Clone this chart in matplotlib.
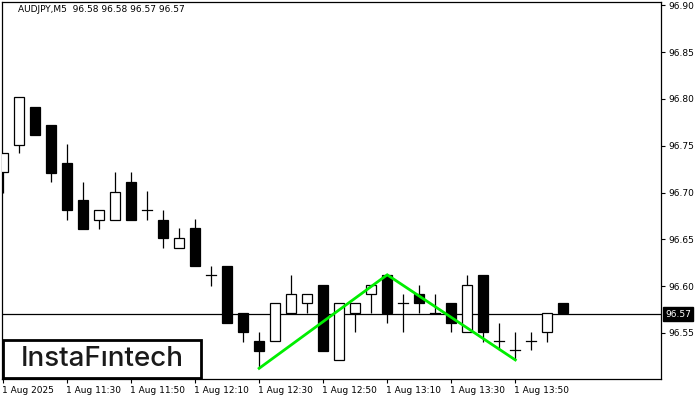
import matplotlib
matplotlib.use("Agg")
import matplotlib.pyplot as plt
import matplotlib.transforms as mtransforms
from matplotlib.patches import Rectangle

opens = [96.722, 96.751, 96.791, 96.772, 96.732, 96.692, 96.671, 96.671, 96.711, 96.681,
         96.671, 96.641, 96.662, 96.612, 96.621, 96.571, 96.541, 96.541, 96.571, 96.582,
         96.601, 96.521, 96.571, 96.591, 96.612, 96.582, 96.591, 96.571, 96.582, 96.551,
         96.612, 96.541, 96.532, 96.541, 96.551, 96.582]
highs = [96.742, 96.802, 96.791, 96.772, 96.752, 96.711, 96.681, 96.722, 96.722, 96.702,
         96.681, 96.662, 96.672, 96.621, 96.621, 96.571, 96.551, 96.582, 96.612, 96.591,
         96.601, 96.582, 96.582, 96.601, 96.612, 96.591, 96.601, 96.591, 96.582, 96.612,
         96.612, 96.561, 96.551, 96.551, 96.551, 96.582]
lows = [96.700, 96.742, 96.761, 96.711, 96.671, 96.661, 96.661, 96.671, 96.671, 96.671,
        96.641, 96.641, 96.621, 96.600, 96.561, 96.540, 96.512, 96.541, 96.571, 96.571,
        96.531, 96.521, 96.551, 96.571, 96.561, 96.551, 96.571, 96.571, 96.551, 96.551,
        96.540, 96.532, 96.521, 96.532, 96.540, 96.571]
closes = [96.742, 96.802, 96.761, 96.721, 96.681, 96.661, 96.681, 96.701, 96.671, 96.681,
          96.651, 96.651, 96.621, 96.612, 96.561, 96.551, 96.531, 96.582, 96.591, 96.591,
          96.531, 96.582, 96.582, 96.601, 96.571, 96.582, 96.582, 96.571, 96.561, 96.601,
          96.551, 96.541, 96.532, 96.541, 96.571, 96.571]

xtick_idx = [0, 4, 8, 12, 16, 20, 24, 28, 32]
xtick_labels = ["1 Aug 2025", "1 Aug 11:30", "1 Aug 11:50", "1 Aug 12:10", "1 Aug 12:30",
                "1 Aug 12:50", "1 Aug 13:10", "1 Aug 13:30", "1 Aug 13:50"]
ytick_vals = [96.55, 96.60, 96.65, 96.70, 96.75, 96.80, 96.85, 96.90]

pattern_idx = [16, 24, 32]
pattern_price = [96.512, 96.612, 96.521]

current_price = 96.57
title = "AUDJPY,M5  96.58 96.58 96.57 96.57"

plt.rcParams['font.family'] = ['DejaVu Sans']
fig = plt.figure(figsize=(7, 4), dpi=100)
L, R, T, B = 2, 661, 2, 379
ax = fig.add_axes([L / 700, (400 - B) / 400, (R - L) / 700, (B - T) / 400])
ax.set_xlim(-0.06, 41.1)
ax.set_ylim(96.5006, 96.9037)

bw = 0.64
for i, (o, h, l, c) in enumerate(zip(opens, highs, lows, closes)):
    top = max(o, c)
    bot = min(o, c)
    ax.plot([i, i], [l, h], color='black', lw=0.9, solid_capstyle='butt', zorder=2)
    if abs(o - c) < 1e-9:
        ax.plot([i - 0.32, i + 0.32], [o, o], color='black', lw=0.9, zorder=3)
    else:
        fc = 'white' if c > o else 'black'
        ax.add_patch(Rectangle((i - bw / 2, bot), bw, top - bot, facecolor=fc,
                               edgecolor='black', lw=0.9, zorder=3))

ax.axhline(current_price, color='black', lw=0.9, zorder=1)
ax.plot(pattern_idx, pattern_price, color='#00ee00', lw=2.0, zorder=4,
        solid_joinstyle='miter')

ax.yaxis.tick_right()
ax.set_yticks(ytick_vals)
ax.set_yticklabels([f"{v:.2f}" for v in ytick_vals])
ax.tick_params(axis='y', direction='out', length=3, width=0.8, pad=2, labelsize=6.5)
ax.set_xticks(xtick_idx)
ax.set_xticklabels(xtick_labels, ha='left')
ax.tick_params(axis='x', direction='out', length=3, width=0.8, pad=2, labelsize=6.5)
offset = mtransforms.ScaledTranslation(-1 / 100, 0, fig.dpi_scale_trans)
for lab in ax.get_xticklabels():
    lab.set_transform(lab.get_transform() + offset)

for s in ax.spines.values():
    s.set_linewidth(0.9)

ax.annotate(f"{current_price:.2f}", xy=(1.0, current_price), xycoords=('axes fraction', 'data'),
            xytext=(3, 0), textcoords='offset points', ha='left', va='center',
            fontsize=6.5, color='white',
            bbox=dict(boxstyle='square,pad=0.25', fc='black', ec='black'))

fig.text(18 / 700, 1 - 9 / 400, title, fontsize=6.5, va='center', ha='left')

# logo
logo = Rectangle((3 / 700, (400 - 378) / 400), (201 - 3) / 700, (378 - 340) / 400,
                 transform=fig.transFigure, facecolor='white', edgecolor='black', lw=2, zorder=10)
fig.add_artist(logo)
fig.text(102 / 700, 1 - 359 / 400, "InstaF\u0131ntech", fontsize=20, ha='center', va='center',
         color='#1a1a1a', family='Inter', fontweight='medium', zorder=11)

fig.savefig("out.png", dpi=100)
